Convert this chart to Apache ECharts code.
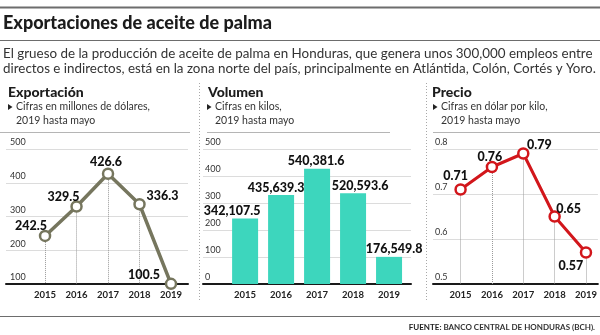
<!DOCTYPE html>
<html><head><meta charset="utf-8">
<script src="https://cdn.jsdelivr.net/npm/echarts@6/dist/echarts.min.js"></script>
<style>html,body{margin:0;padding:0;background:#fff}#c{width:600px;height:335px}</style>
</head><body><div id="c"></div>
<script>
// ---------- DATA ----------
const years = [2015, 2016, 2017, 2018, 2019];
const exportValues = [242.5, 329.5, 426.6, 336.3, 100.5];          // millones de dólares
const volumeLabels = ['342,107.5', '435,639.3', '540,381.6', '520,593.6', '176,549.8']; // kilos (as printed)
const volumeBarHeights = [242.5, 329.5, 426.6, 336.3, 100.5];     // bar heights as drawn on the 0–500 scale
const priceValues = [0.71, 0.76, 0.79, 0.65, 0.57];                // dólar por kilo
const exportTicks = [100, 200, 300, 400, 500];
const volumeTicks = [0, 100, 200, 300, 400, 500];
const priceTicks = [0.5, 0.6, 0.7, 0.8];

const titleText = 'Exportaciones de aceite de palma';
const introLines = [
  'El grueso de la producción de aceite de palma en Honduras, que genera unos 300,000 empleos entre',
  'directos e indirectos, está en la zona norte del país, principalmente en Atlántida, Colón, Cortés y Yoro.'
];
const panelTitles = ['Exportación', 'Volumen', 'Precio'];
const panelSubtitles = [
  ['Cifras en millones de dólares,', '2019 hasta mayo'],
  ['Cifras en kilos,', '2019 hasta mayo'],
  ['Cifras en dólar por kilo,', '2019 hasta mayo']
];
const sourceBold = 'FUENTE:';
const sourceText = ' BANCO CENTRAL DE HONDURAS (BCH).';

// ---------- STYLE / LAYOUT ----------
const F = 'Lato, "Open Sans", sans-serif';
const cExport = '#76765e', cBar = '#3dd6bd', cPrice = '#d2161b';
const exportLabelOffsets = [[-14, -10], [-13, -10], [-2, -12], [23, -8], [-27, -9]];
const volumeLabelOffsets = [[-13, 0], [-5, 0], [-1, 0], [7, 0], [5, 0]];
const priceLabelOffsets = [[-5, -14], [-2, -10], [16, -9], [14, -8], [-15, 13]];

const chart = echarts.init(document.getElementById('c'), null, {renderer: 'canvas'});

function yAxisCfg(grid, min, max, interval, margin, fmt) {
  return {
    type: 'value', gridIndex: grid, min, max, interval,
    axisLine: {show: false}, axisTick: {show: false},
    splitLine: {show: true, lineStyle: {color: '#dcdcdc', width: 1}},
    axisLabel: {inside: true, margin, verticalAlign: 'bottom', padding: [0, 0, 2, 0],
      color: '#333', fontSize: 9, fontFamily: F, formatter: fmt}
  };
}
function xAxisCfg(grid, min, max) {
  return {
    type: 'value', gridIndex: grid, min, max,
    axisLine: {show: true, onZero: false, lineStyle: {color: '#1a1a1a', width: 2}},
    axisTick: {show: false}, splitLine: {show: false},
    axisLabel: {customValues: years, formatter: v => String(v), margin: 6,
      color: '#222', fontSize: 9.5, fontWeight: 'bold', fontFamily: F}
  };
}
function dropLines(values, base) {
  return {
    z: 1, silent: true, symbol: ['none', 'none'], label: {show: false},
    emphasis: {disabled: true},
    lineStyle: {type: 'dotted', color: '#9a9a9a', width: 1},
    data: years.map((y, i) => [{coord: [y, values[i]]}, {coord: [y, base]}])
  };
}

const titles = [
  {text: titleText, left: 3, top: 14, padding: 0,
   textStyle: {fontFamily: F, fontSize: 18, fontWeight: 900, color: '#1c1c1c', lineHeight: 18}},
  {text: introLines.join('\n'), left: 3, top: 46, padding: 0,
   textStyle: {fontFamily: F, fontSize: 13.4, fontWeight: 'normal', color: '#333', lineHeight: 15}}
];
const panelX = [8, 208, 432];
const subX = [16, 215, 441];
panelTitles.forEach((t, i) => {
  titles.push({text: t, left: panelX[i], top: 85, padding: 0,
    textStyle: {fontFamily: F, fontSize: 14, fontWeight: 900, color: '#1c1c1c', lineHeight: 14}});
  titles.push({text: panelSubtitles[i].join('\n'), left: subX[i], top: 100, padding: 0,
    textStyle: {fontFamily: F, fontSize: 10.5, fontWeight: 'normal', color: '#333', lineHeight: 14}});
});
titles.push({text: '{b|' + sourceBold + '}{n|' + sourceText + '}', right: 5, top: 323, padding: 0,
  textStyle: {rich: {
    b: {fontFamily: F, fontSize: 8, fontWeight: 'bold', color: '#222'},
    n: {fontFamily: F, fontSize: 8, color: '#333'}}}});

const graphics = [
  {type: 'line', shape: {x1: 0, y1: 7.5, x2: 600, y2: 7.5}, style: {stroke: '#6d6d6d', lineWidth: 2}},
  {type: 'line', shape: {x1: 0, y1: 40.5, x2: 600, y2: 40.5}, style: {stroke: '#6d6d6d', lineWidth: 1.2}},
  {type: 'line', shape: {x1: 0, y1: 132.5, x2: 190, y2: 132.5}, style: {stroke: '#b5b5b5', lineWidth: 1}},
  {type: 'line', shape: {x1: 207, y1: 132.5, x2: 390, y2: 132.5}, style: {stroke: '#b5b5b5', lineWidth: 1}},
  {type: 'line', shape: {x1: 433, y1: 132.5, x2: 600, y2: 132.5}, style: {stroke: '#b5b5b5', lineWidth: 1}},
  {type: 'line', shape: {x1: 199.5, y1: 83, x2: 199.5, y2: 302}, style: {stroke: '#a8a8a8', lineWidth: 1, lineDash: [1, 2]}},
  {type: 'line', shape: {x1: 426.5, y1: 83, x2: 426.5, y2: 302}, style: {stroke: '#a8a8a8', lineWidth: 1, lineDash: [1, 2]}},
  {type: 'line', shape: {x1: 0, y1: 316.5, x2: 600, y2: 316.5}, style: {stroke: '#6d6d6d', lineWidth: 1}}
];
subX.forEach(x => {
  graphics.push({type: 'polygon', shape: {points: [[x - 8, 104], [x - 8, 110], [x - 3.5, 107]]}, style: {fill: '#222'}});
});

const option = {
  animation: false,
  backgroundColor: '#fff',
  title: titles,
  graphic: graphics,
  grid: [
    {left: 6, top: 149, width: 182, height: 135},
    {left: 203, top: 149, width: 208, height: 135},
    {left: 433, top: 149, width: 167, height: 135}
  ],
  xAxis: [xAxisCfg(0, 2013.76, 2019.54), xAxisCfg(1, 2013.83, 2019.61), xAxisCfg(2, 2014.12, 2019.38)],
  yAxis: [
    yAxisCfg(0, exportTicks[0], exportTicks[exportTicks.length - 1], 100, 4, v => String(v)),
    yAxisCfg(1, volumeTicks[0], volumeTicks[volumeTicks.length - 1], 100, 2, v => String(v)),
    yAxisCfg(2, priceTicks[0], priceTicks[priceTicks.length - 1], 0.1, 2, v => v.toFixed(1))
  ],
  series: [
    {
      type: 'line', xAxisIndex: 0, yAxisIndex: 0, z: 3,
      data: years.map((y, i) => ({value: [y, exportValues[i]], label: {offset: exportLabelOffsets[i]}})),
      symbol: 'circle', symbolSize: 10,
      lineStyle: {color: cExport, width: 3.5},
      itemStyle: {color: '#fff', borderColor: cExport, borderWidth: 2.5},
      label: {show: true, position: 'inside', fontFamily: F, fontSize: 12.5, fontWeight: 900, color: '#111',
        formatter: p => p.value[1].toFixed(1)},
      markLine: dropLines(exportValues, exportTicks[0])
    },
    {
      type: 'bar', xAxisIndex: 1, yAxisIndex: 1, barWidth: 26,
      data: years.map((y, i) => ({value: [y, volumeBarHeights[i]], label: {offset: volumeLabelOffsets[i]}})),
      itemStyle: {color: cBar},
      label: {show: true, position: 'top', distance: 1, fontFamily: F, fontSize: 12.5, fontWeight: 900, color: '#111',
        formatter: p => volumeLabels[p.dataIndex]}
    },
    {
      type: 'line', xAxisIndex: 2, yAxisIndex: 2, z: 3,
      data: years.map((y, i) => ({value: [y, priceValues[i]], label: {offset: priceLabelOffsets[i]}})),
      symbol: 'circle', symbolSize: 10,
      lineStyle: {color: cPrice, width: 3},
      itemStyle: {color: '#fff', borderColor: cPrice, borderWidth: 2.5},
      label: {show: true, position: 'inside', fontFamily: F, fontSize: 12.5, fontWeight: 900, color: '#111',
        formatter: p => p.value[1].toFixed(2)},
      markLine: dropLines(priceValues, priceTicks[0])
    }
  ]
};
chart.setOption(option);
</script>
</body></html>
